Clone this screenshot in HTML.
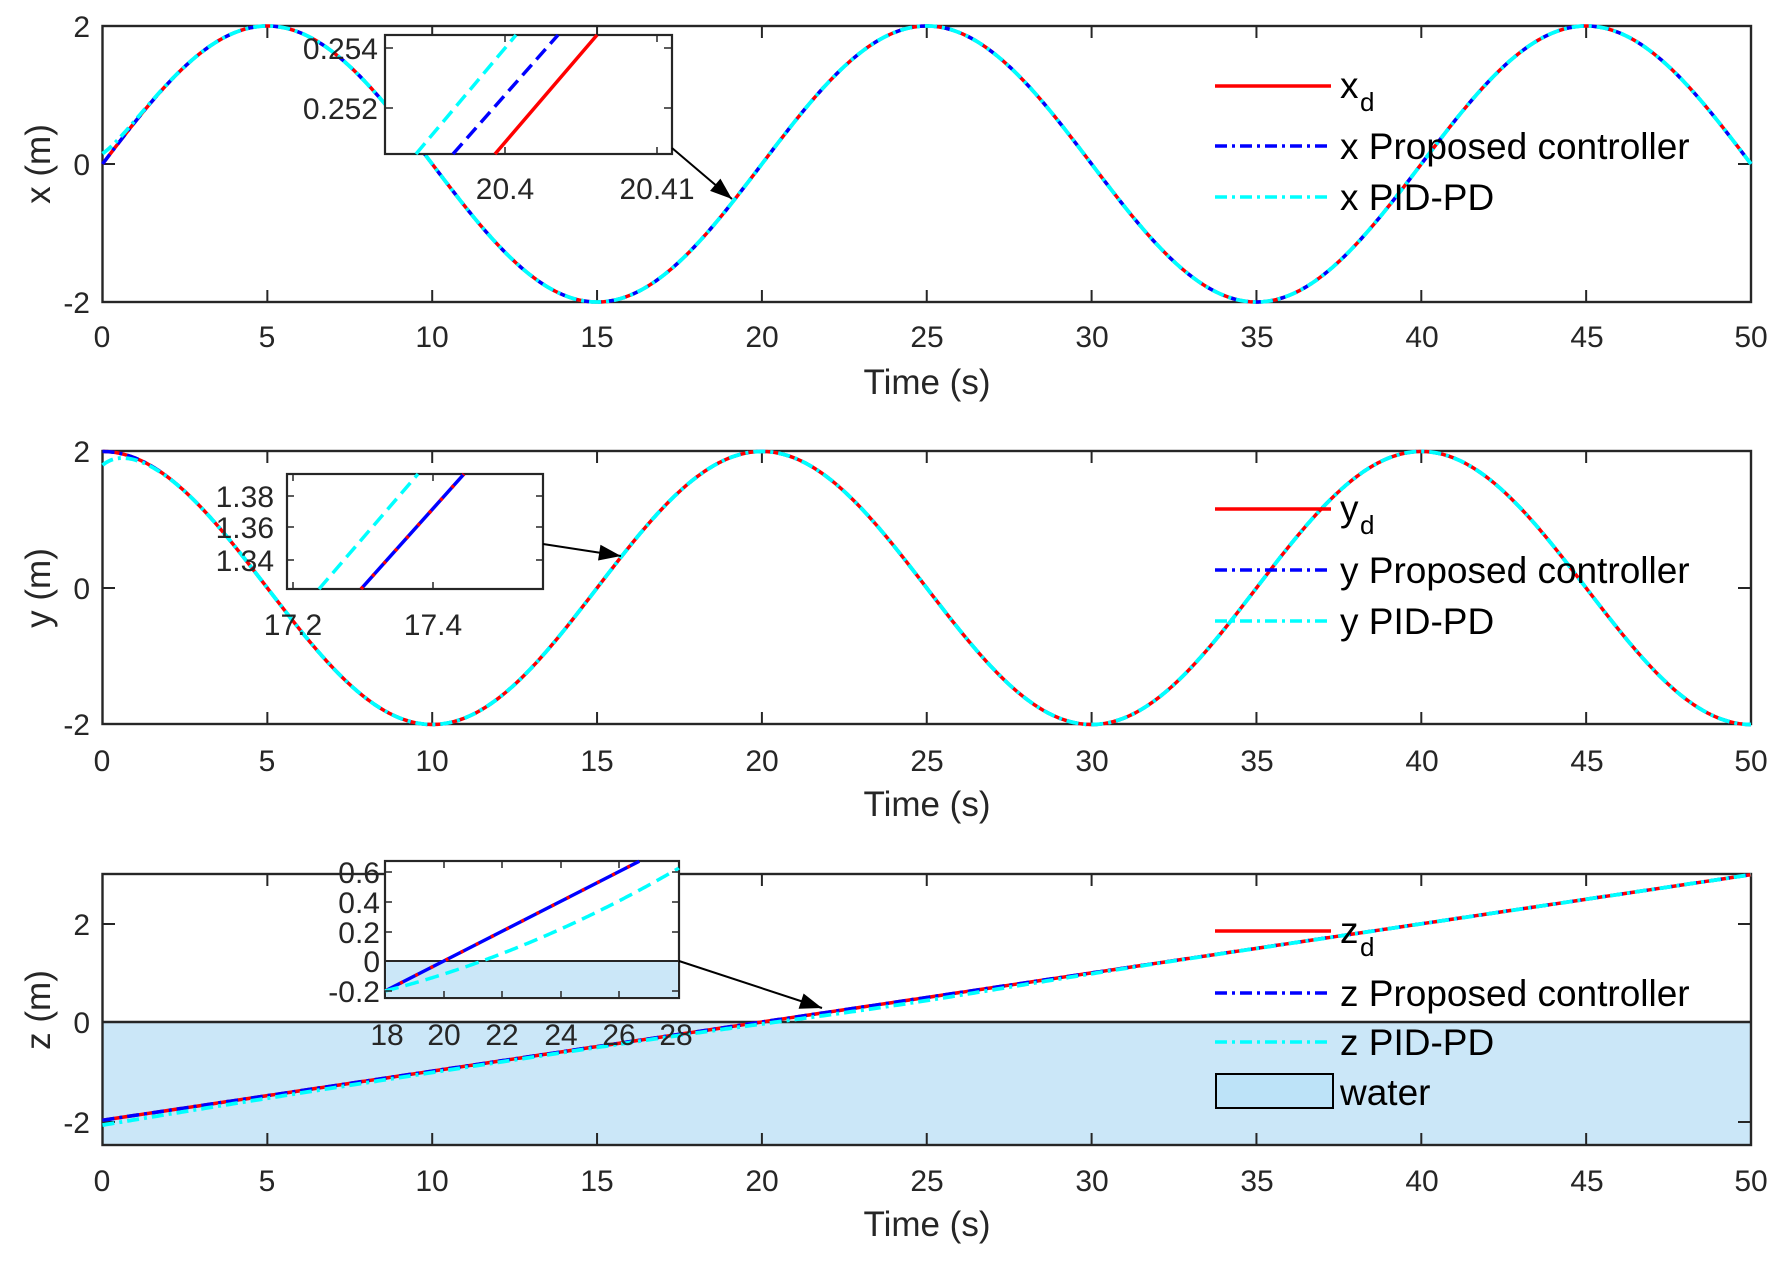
<!DOCTYPE html>
<html><head><meta charset="utf-8"><style>
html,body{margin:0;padding:0;background:#fff;}
svg{display:block;font-family:"Liberation Sans",Arial,sans-serif;}
.tk{font-size:30px;fill:#262626;}
.lg{font-size:37px;fill:#000;}
</style></head><body>
<svg id="s" width="1786" height="1262" viewBox="0 0 1786 1262" xmlns="http://www.w3.org/2000/svg">
<rect width="1786" height="1262" fill="#fff"/>
<g id="g"></g>
<g class="tk" text-anchor="middle">
<text x="102" y="347">0</text><text x="267" y="347">5</text><text x="432" y="347">10</text><text x="597" y="347">15</text><text x="762" y="347">20</text><text x="927" y="347">25</text><text x="1092" y="347">30</text><text x="1257" y="347">35</text><text x="1422" y="347">40</text><text x="1587" y="347">45</text><text x="1751" y="347">50</text>
<text x="102" y="771">0</text><text x="267" y="771">5</text><text x="432" y="771">10</text><text x="597" y="771">15</text><text x="762" y="771">20</text><text x="927" y="771">25</text><text x="1092" y="771">30</text><text x="1257" y="771">35</text><text x="1422" y="771">40</text><text x="1587" y="771">45</text><text x="1751" y="771">50</text>
<text x="102" y="1191">0</text><text x="267" y="1191">5</text><text x="432" y="1191">10</text><text x="597" y="1191">15</text><text x="762" y="1191">20</text><text x="927" y="1191">25</text><text x="1092" y="1191">30</text><text x="1257" y="1191">35</text><text x="1422" y="1191">40</text><text x="1587" y="1191">45</text><text x="1751" y="1191">50</text>
</g>
<g class="tk" text-anchor="end">
<text x="90" y="37">2</text><text x="90" y="175">0</text><text x="90" y="313">-2</text>
<text x="90" y="462">2</text><text x="90" y="599">0</text><text x="90" y="735">-2</text>
<text x="90" y="935">2</text><text x="90" y="1033">0</text><text x="90" y="1133">-2</text>
</g>
<g style="font-size:35px;fill:#262626" text-anchor="middle">
<text x="927" y="394">Time (s)</text>
<text x="927" y="816">Time (s)</text>
<text x="927" y="1236">Time (s)</text>
<text transform="translate(50,164) rotate(-90)">x (m)</text>
<text transform="translate(50,588) rotate(-90)">y (m)</text>
<text transform="translate(50,1010) rotate(-90)">z (m)</text>
</g>
<g id="ins"></g>
<g class="tk" text-anchor="end">
<text x="378" y="59">0.254</text><text x="378" y="119">0.252</text>
<text x="274" y="507">1.38</text><text x="274" y="538">1.36</text><text x="274" y="571">1.34</text>
<text x="380" y="883">0.6</text><text x="380" y="913">0.4</text><text x="380" y="943">0.2</text><text x="380" y="972">0</text><text x="380" y="1002">-0.2</text>
</g>
<g class="tk" text-anchor="middle">
<text x="505" y="199">20.4</text><text x="657" y="199">20.41</text>
<text x="293" y="635">17.2</text><text x="433" y="635">17.4</text>
<text x="387" y="1045">18</text><text x="444" y="1045">20</text><text x="502" y="1045">22</text><text x="561" y="1045">24</text><text x="619" y="1045">26</text><text x="676" y="1045">28</text>
</g>
<g>
<line x1="1215" y1="86" x2="1331" y2="86" stroke="#f00" stroke-width="3.5"/>
<line x1="1215" y1="146" x2="1331" y2="146" stroke="#00f" stroke-width="3.5" stroke-dasharray="12 5 3 5"/>
<line x1="1215" y1="197" x2="1331" y2="197" stroke="#0ff" stroke-width="3.5" stroke-dasharray="12 5 3 5"/>
<text class="lg" x="1340" y="98">x</text><text x="1360" y="111" style="font-size:26px">d</text>
<text class="lg" x="1340" y="159">x Proposed controller</text>
<text class="lg" x="1340" y="210">x PID-PD</text>
<line x1="1215" y1="509" x2="1331" y2="509" stroke="#f00" stroke-width="3.5"/>
<line x1="1215" y1="570" x2="1331" y2="570" stroke="#00f" stroke-width="3.5" stroke-dasharray="12 5 3 5"/>
<line x1="1215" y1="621" x2="1331" y2="621" stroke="#0ff" stroke-width="3.5" stroke-dasharray="12 5 3 5"/>
<text class="lg" x="1340" y="521">y</text><text x="1360" y="534" style="font-size:26px">d</text>
<text class="lg" x="1340" y="583">y Proposed controller</text>
<text class="lg" x="1340" y="634">y PID-PD</text>
<line x1="1215" y1="931" x2="1331" y2="931" stroke="#f00" stroke-width="3.5"/>
<line x1="1215" y1="993" x2="1331" y2="993" stroke="#00f" stroke-width="3.5" stroke-dasharray="12 5 3 5"/>
<line x1="1215" y1="1042" x2="1331" y2="1042" stroke="#0ff" stroke-width="3.5" stroke-dasharray="12 5 3 5"/>
<rect x="1216" y="1074" width="117" height="34" fill="#bde3f8" stroke="#000" stroke-width="2"/>
<text class="lg" x="1340" y="943">z</text><text x="1360" y="956" style="font-size:26px">d</text>
<text class="lg" x="1340" y="1006">z Proposed controller</text>
<text class="lg" x="1340" y="1055">z PID-PD</text>
<text class="lg" x="1340" y="1105">water</text>
</g>
</svg>
<script>
(function(){
var NS="http://www.w3.org/2000/svg";
var g=document.getElementById('g'), ins=document.getElementById('ins');
function el(p,tag,a){var e=document.createElementNS(NS,tag);for(var k in a)e.setAttribute(k,a[k]);p.appendChild(e);return e;}
function X(t){return 102.5+t*32.97;}
function path(p,f,Y,t0,t1,col,dash,w){var d="";for(var i=0;i<=1000;i++){var t=t0+(t1-t0)*i/1000;d+=(i?"L":"M")+X(t).toFixed(2)+","+Y(f(t)).toFixed(2);}
 var a={d:d,fill:"none",stroke:col,"stroke-width":w||3.2};if(dash)a["stroke-dasharray"]=dash;el(p,"path",a);}
var DA="12 5 3 5";
var P=Math.PI;
function frame(top,bot,yt){
 el(g,"rect",{x:102.5,y:top,width:1648.5,height:bot-top,fill:"none",stroke:"#262626","stroke-width":2.4});
 for(var i=0;i<=10;i++){var x=X(i*5);el(g,"line",{x1:x,y1:bot,x2:x,y2:bot-12,stroke:"#262626","stroke-width":2});el(g,"line",{x1:x,y1:top,x2:x,y2:top+12,stroke:"#262626","stroke-width":2});}
 yt.forEach(function(y){el(g,"line",{x1:102.5,y1:y,x2:115,y2:y,stroke:"#262626","stroke-width":2});el(g,"line",{x1:1751,y1:y,x2:1738,y2:y,stroke:"#262626","stroke-width":2});});
}
el(g,"rect",{x:102.5,y:1022,width:1648.5,height:123,fill:"#cbe7f8",stroke:"none"});
frame(26,302,[26,164,302]);
frame(451,724,[451,588,724]);
frame(874,1145,[924,1022,1122]);
el(g,"line",{x1:102.5,y1:1022,x2:1751,y2:1022,stroke:"#262626","stroke-width":2.4});
var Y1=function(v){return 164-v*69;},Y2=function(v){return 588-v*68.25;},Y3=function(v){return 1022-v*49.1;};
var xd=function(t){return 2*Math.sin(P*t/10);},xc=function(t){return xd(t)+0.15*Math.exp(-t*2);};
var yd=function(t){return 2*Math.cos(P*t/10);},yc=function(t){return yd(t)-0.2*Math.exp(-t*2);};
var zd=function(t){return -2+0.1*t;},zc=function(t){return zd(t)-0.1*Math.exp(-t/8)-0.06*Math.exp(-Math.pow((t-24)/5,2));};
path(g,xd,Y1,0,50,"#f00",null,3.5);path(g,xd,Y1,0,50,"#00f",DA,3.5);path(g,xc,Y1,0,50,"#0ff",DA,3.8);
path(g,yd,Y2,0,50,"#f00",null,3.5);path(g,yd,Y2,0,50,"#00f",DA,3.5);path(g,yc,Y2,0,50,"#0ff",DA,3.8);
path(g,zd,Y3,0,50,"#f00",null,3.5);path(g,zd,Y3,0,50,"#00f",DA,3.5);path(g,zc,Y3,0,50,"#0ff",DA,3.8);
function box(x1,y1,x2,y2){el(ins,"rect",{x:x1,y:y1,width:x2-x1,height:y2-y1,fill:"#fff",stroke:"#262626","stroke-width":2.2});}
function ln(a,b,c,d,col,dash,w){var o={x1:a,y1:b,x2:c,y2:d,stroke:col,"stroke-width":w||3.5};if(dash)o["stroke-dasharray"]=dash;el(ins,"line",o);}
function arrow(x1,y1,x2,y2){ln(x1,y1,x2,y2,"#000",null,2);var a=Math.atan2(y2-y1,x2-x1),L=22,W=8;
 var bx=x2-L*Math.cos(a),by=y2-L*Math.sin(a);
 el(ins,"polygon",{points:x2+","+y2+" "+(bx-W*Math.sin(a))+","+(by+W*Math.cos(a))+" "+(bx+W*Math.sin(a))+","+(by-W*Math.cos(a)),fill:"#000"});}
box(385,35,672,154);
ln(416,154,516,35,"#0ff","14 7");ln(453,154,558,35,"#00f","14 7");ln(495,154,597,35,"#f00");
[48,108].forEach(function(y){ln(385,y,393,y,"#262626",null,1.5);ln(672,y,664,y,"#262626",null,1.5);});
[505,657].forEach(function(x){ln(x,154,x,147,"#262626",null,1.5);ln(x,35,x,42,"#262626",null,1.5);});
arrow(672,148,732,199);
box(287,474,543,589);
ln(319,589,418,474,"#0ff","14 7");ln(361,589,464,474,"#00f");ln(361,589,464,474,"#f00","3 14");
[496,527,560].forEach(function(y){ln(287,y,294,y,"#262626",null,1.5);ln(543,y,536,y,"#262626",null,1.5);});
[293,433].forEach(function(x){ln(x,589,x,582,"#262626",null,1.5);ln(x,474,x,481,"#262626",null,1.5);});
arrow(543,544,621,556);
box(385,861,679,998);
el(ins,"rect",{x:386,y:961,width:292,height:36,fill:"#cbe7f8"});
ln(385,961,679,961,"#262626",null,2);
var XI=function(t){return 385+(t-18)*29.4;},YI=function(v){return 961-v*150;};
function ip(f,col,dash){var d="";for(var i=0;i<=200;i++){var t=18+10*i/200;var v=f(t);if(YI(v)<861)break;d+=(i?"L":"M")+XI(t).toFixed(2)+","+YI(v).toFixed(2);}var o={d:d,fill:"none",stroke:col,"stroke-width":3.5};if(dash)o["stroke-dasharray"]=dash;el(ins,"path",o);}
ip(function(t){return 0.1*(t-20);},"#00f");
ip(function(t){return 0.1*(t-20);},"#f00","3 14");
ip(function(t){return 0.1*(t-20)-0.05*(t-18)+0.0032*(t-18)*(t-18)+0.0;},"#0ff","14 7");
[872,902,932,961,991].forEach(function(y){ln(385,y,392,y,"#262626",null,1.5);ln(679,y,672,y,"#262626",null,1.5);});
[385,444,502,561,619,679].forEach(function(x){ln(x,998,x,991,"#262626",null,1.5);ln(x,861,x,868,"#262626",null,1.5);});
arrow(679,961,822,1008);
})();
</script>
</body></html>
